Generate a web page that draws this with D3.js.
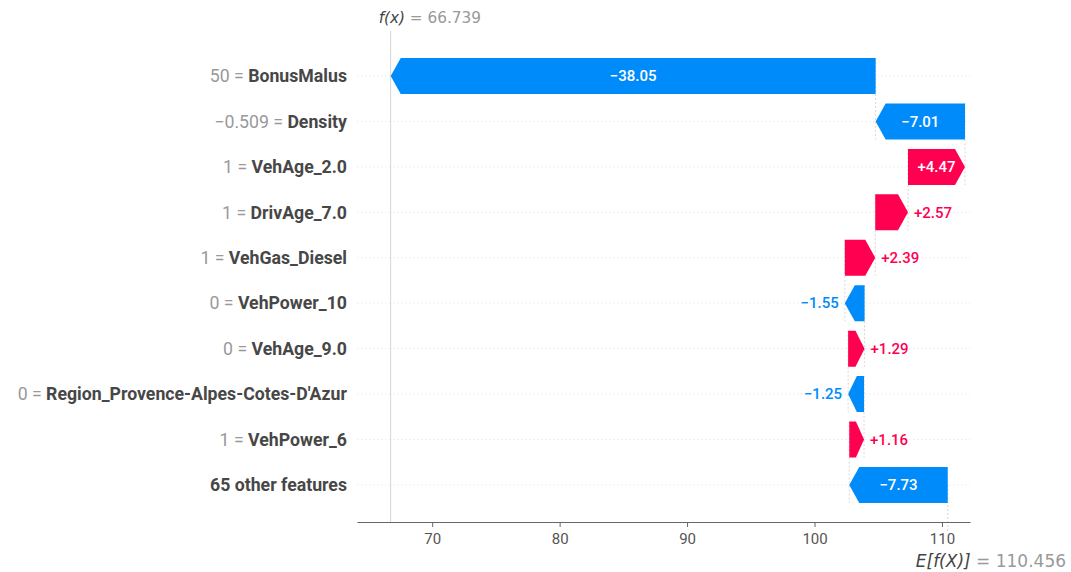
<!doctype html>
<meta charset="utf-8">
<style>
  body { margin: 0; background: #fff; }
</style>
<body>
<script src="https://d3js.org/d3.v7.min.js"></script>
<script>

// feature rows, top to bottom
let features = ["BonusMalus", "Density", "VehAge_2.0", "DrivAge_7.0", "VehGas_Diesel",
                "VehPower_10", "VehAge_9.0", "Region_Provence-Alpes-Cotes-D'Azur", "VehPower_6",
                "65 other features"];
let featureValues = ["50", "\u22120.509", "1", "1", "1", "0", "0", "0", "1", null];
let shapValues = [-38.05, -7.01, 4.47, 2.57, 2.39, -1.55, 1.29, -1.25, 1.16, -7.73];
let baseValue = 110.456,
    fx = 66.739;
let xTicks = [70, 80, 90, 100, 110];

let width = 1071, height = 572;
let blue = "#008bfb", red = "#ff0051";
let sans = "Roboto, 'Noto Sans', sans-serif",
    mpl = "'DejaVu Sans', sans-serif";

let svg = d3.select("body").append("svg")
    .attr("width", width)
    .attr("height", height)
    .style("font-family", sans);

let x = d3.scaleLinear().domain([64.1, 112.2]).range([357, 970]);
let y = d3.scalePoint().domain(d3.range(features.length)).range([76, 485]);
let barH = 36, axisY = 522;

// build bars from the bottom (base value) upward
let rows = [];
let cur = baseValue;
for (let i = features.length - 1; i >= 0; i--) {
  let start = cur, end = cur + shapValues[i];
  rows[i] = {i: i, start: start, end: end, v: shapValues[i]};
  cur = end;
}

// horizontal row guides
svg.append("g").selectAll("line")
    .data(rows)
  .enter().append("line")
    .attr("x1", x.range()[0]).attr("x2", x.range()[1])
    .attr("y1", d => y(d.i)).attr("y2", d => y(d.i))
    .attr("stroke", "#dddddd").attr("stroke-width", 0.6)
    .attr("stroke-dasharray", "1.5,2.5");

// f(x) and E[f(X)] vertical lines
svg.append("line")
    .attr("x1", x(fx)).attr("x2", x(fx))
    .attr("y1", 31).attr("y2", axisY)
    .attr("stroke", "#cccccc").attr("stroke-width", 0.8);
svg.append("line")
    .attr("x1", x(baseValue)).attr("x2", x(baseValue))
    .attr("y1", y(features.length - 1)).attr("y2", axisY + 10)
    .attr("stroke", "#cccccc").attr("stroke-width", 0.8)
    .attr("stroke-dasharray", "2,2");

// connectors between consecutive bars
svg.append("g").selectAll("line")
    .data(rows.slice(0, -1))
  .enter().append("line")
    .attr("x1", d => x(d.start)).attr("x2", d => x(d.start))
    .attr("y1", d => y(d.i) - barH / 2).attr("y2", d => y(d.i + 1) + barH / 2)
    .attr("stroke", "#bbbbbb").attr("stroke-width", 0.6)
    .attr("stroke-dasharray", "2,2");

function arrow(d) {
  let x0 = x(d.start), x1 = x(d.end);
  let w = Math.abs(x1 - x0);
  let h = Math.min(10, w * 0.55);
  let s = d.v > 0 ? 1 : -1;
  let t = y(d.i) - barH / 2, b = y(d.i) + barH / 2, m = y(d.i);
  return [[x0, t], [x1 - s * h, t], [x1, m], [x1 - s * h, b], [x0, b]];
}

let bars = svg.append("g").selectAll("g")
    .data(rows)
  .enter().append("g");

bars.append("polygon")
    .attr("points", d => arrow(d).map(p => p.join(",")).join(" "))
    .attr("fill", d => d.v > 0 ? red : blue);

function fmt(v) {
  return (v > 0 ? "+" : "\u2212") + Math.abs(v).toFixed(2);
}

bars.append("text")
    .text(d => fmt(d.v))
    .attr("font-size", 15)
    .attr("font-weight", 500)
    .attr("dy", "0.35em")
    .each(function(d) {
      let t = d3.select(this);
      let tw = this.getComputedTextLength();
      let w = Math.abs(x(d.end) - x(d.start));
      if (w > tw + 14) {
        t.attr("x", (x(d.start) + x(d.end)) / 2).attr("y", y(d.i))
         .attr("text-anchor", "middle").attr("fill", "#fff");
      } else {
        let pos = d.v > 0;
        t.attr("x", x(d.end) + (pos ? 6 : -6)).attr("y", y(d.i))
         .attr("text-anchor", pos ? "start" : "end")
         .attr("fill", pos ? red : blue);
      }
    });

// feature labels
let labels = svg.append("g").selectAll("text")
    .data(features)
  .enter().append("text")
    .attr("x", 347)
    .attr("y", (d, i) => y(i))
    .attr("dy", "0.35em")
    .attr("text-anchor", "end")
    .attr("font-size", 17.7);

labels.each(function(d, i) {
  let t = d3.select(this);
  if (featureValues[i] !== null) {
    t.append("tspan").attr("fill", "#999999").text(featureValues[i] + " = ");
  }
  t.append("tspan").attr("fill", "#474747").attr("font-weight", "bold").text(d);
});

// x axis
let axis = svg.append("g")
    .attr("transform", "translate(0," + axisY + ")")
    .call(d3.axisBottom(x).tickValues(xTicks).tickSize(5).tickPadding(6).tickSizeOuter(0));
axis.select(".domain").attr("stroke", "#666666").attr("stroke-width", 1.2);
axis.selectAll(".tick line").attr("stroke", "#666666");
axis.selectAll(".tick text")
    .attr("fill", "#555555")
    .style("font-size", "15px")
    .style("font-family", sans);

// f(x) label
let ft = svg.append("text")
    .attr("x", x(fx) - 12).attr("y", 23)
    .style("font-family", mpl)
    .attr("font-size", 15.3);
ft.append("tspan").attr("fill", "#444").attr("font-style", "italic").text("f(x)");
ft.append("tspan").attr("fill", "#999").text(" = " + fx.toFixed(3));

// E[f(X)] label
let et = svg.append("text")
    .attr("x", x(baseValue) - 32).attr("y", 567)
    .style("font-family", mpl)
    .attr("font-size", 17);
et.append("tspan").attr("fill", "#444").attr("font-style", "italic").text("E[f(X)]");
et.append("tspan").attr("fill", "#999").text(" = " + baseValue.toFixed(3));

</script>
